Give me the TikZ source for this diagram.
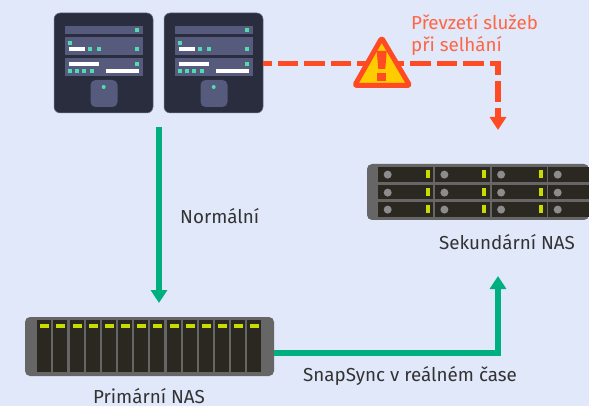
\documentclass[tikz,border=0pt]{standalone}
\usepackage{fontspec}
\setmainfont{Fira Sans}
\usepackage{xcolor}
\usetikzlibrary{arrows.meta}
\definecolor{bgblue}{HTML}{E0E8FA}
\definecolor{srvdark}{HTML}{2A2D3E}
\definecolor{srvpanel}{HTML}{565B7E}
\definecolor{ledgreen}{HTML}{4FDDB0}
\definecolor{linkgreen}{HTML}{00AF80}
\definecolor{failred}{HTML}{FF4B23}
\definecolor{warnyellow}{HTML}{FFCC00}
\definecolor{nasgrey}{HTML}{666666}
\definecolor{baydark}{HTML}{2B2822}
\definecolor{baylime}{HTML}{C8DC00}
\definecolor{textdark}{HTML}{333333}
\tikzset{
  box/.style={inner sep=0pt,outer sep=0pt,anchor=north west},
  serverbox/.style={box,fill=srvdark,draw=srvdark!60!bgblue,line width=.5pt,rounded corners=6pt,minimum width=99pt,minimum height=100pt},
  nasbox/.style={box,fill=nasgrey,rounded corners=5pt},
  label/.style={font=\fontsize{18.8pt}{22pt}\selectfont,text=textdark,inner sep=0pt},
  normalflow/.style={linkgreen,line width=6pt,-{Triangle[width=16pt,length=13pt]}},
  failflow/.style={failred,line width=5.5pt,dash pattern=on 20.5pt off 6pt,dash phase=12pt,-{Triangle[width=16pt,length=13pt]}}
}
% one server, x0 is its left edge
\newcommand{\serverunit}[2]{%
  \node[serverbox] (#2) at (#1,13) {};
  \begin{scope}[shift={(#1,0)}]
    \fill[srvpanel] (11.3,26) rectangle (89,34);
    \fill[srvpanel] (11.3,37) rectangle (89,55);
    \fill[srvpanel] (11.3,58) rectangle (89,76);
    \fill[srvpanel,rounded corners=5pt] (36.5,80) rectangle (63.5,107);
    \fill[white] (14.7,47) rectangle (31.3,51);
    \fill[white] (14.7,62) rectangle (44.7,66);
    \fill[white] (52.3,69) rectangle (84.7,73);
    \foreach \x/\y in {82.7/30,16.3/43,36.3/49,44.7/49,82.7/49,82.7/64,16.3/71,23.3/71,30.3/71,37.7/71}
      \fill[ledgreen] (\x-2,\y-2) rectangle (\x+2,\y+2);
    \fill[ledgreen] (49.7,87) circle (2);
  \end{scope}}
\begin{document}
\begin{tikzpicture}[x=1pt,y=-1pt]
  \useasboundingbox[fill=bgblue] (0,0) rectangle (589,406);
  \serverunit{54}{srvA}
  \serverunit{164}{srvB}
  % primary
  \node[nasbox,minimum width=249pt,minimum height=59pt] (nasA) at (25,317) {};
  \foreach \x in {37.3,53.3,70.3,86.3,102.3,118.3,134.3,150.3,167.3,183.3,199.3,215.3,231.3,247.3}{
    \fill[baydark] (\x,320) rectangle (\x+14,372);
    \fill[baylime] (\x+3,324) rectangle (\x+11.7,328);
  }
  \node[label,anchor=base] (nasAlabel) at (149,403) {Primární NAS};
  % secondary
  \node[nasbox,minimum width=222pt,minimum height=56pt] (nasB) at (367,164) {};
  \foreach \y/\h in {167/15.3,185/14.3,202/15}{
    \foreach \x in {378.3,435,491.7}{
      \fill[baydark] (\x,\y) rectangle (\x+55,\y+\h);
      \fill[nasgrey!75!white] (\x+9.4,\y+7.6) circle (4);
      \fill[baylime] (\x+47.4,\y+3.5) rectangle (\x+51.4,\y+11.5);
    }
    \fill[baydark] (548,\y) rectangle (589,\y+\h);
    \fill[nasgrey!75!white] (557.7,\y+7.6) circle (4);
  }
  \node[label,anchor=base] (nasBlabel) at (507,249) {Sekundární NAS};
  % links
  \coordinate (normalstart) at (159,127);
  \coordinate (normalend) at (159,303);
  \coordinate (failstart) at (263,63.5);
  \coordinate (failend) at (498,130);
  \coordinate (syncend) at (498,276);
  \draw[normalflow] (normalstart) -- (normalend);
  \draw[normalflow] ([yshift=-6.5pt]nasA.east) -| (syncend);
  \draw[failflow] (failstart) -| (failend);
  \node[label,anchor=base west] (normallabel) at (180,224) {Normální};
  \node[label,anchor=base west] (synclabel) at (303,381) {SnapSync v reálném čase};
  \node[label,anchor=base west,text=failred!85!white] (faillabel) at (411,30) {Převzetí služeb};
  \node[label,anchor=base west,text=failred!85!white] (faillabelb) at (411,52) {při selhání};
  % warning sign
  \draw[failred,fill=warnyellow,line width=5pt,line join=round,rounded corners=1.5pt] (381.7,38) -- (409.7,85.5) -- (354.7,85.5) -- cycle;
  \fill[failred] (376.7,51) -- (386.7,51) -- (385.3,69) -- (378.3,69) -- cycle;
  \fill[failred] (377.3,72.7) rectangle (386,81);
\end{tikzpicture}
\end{document}
